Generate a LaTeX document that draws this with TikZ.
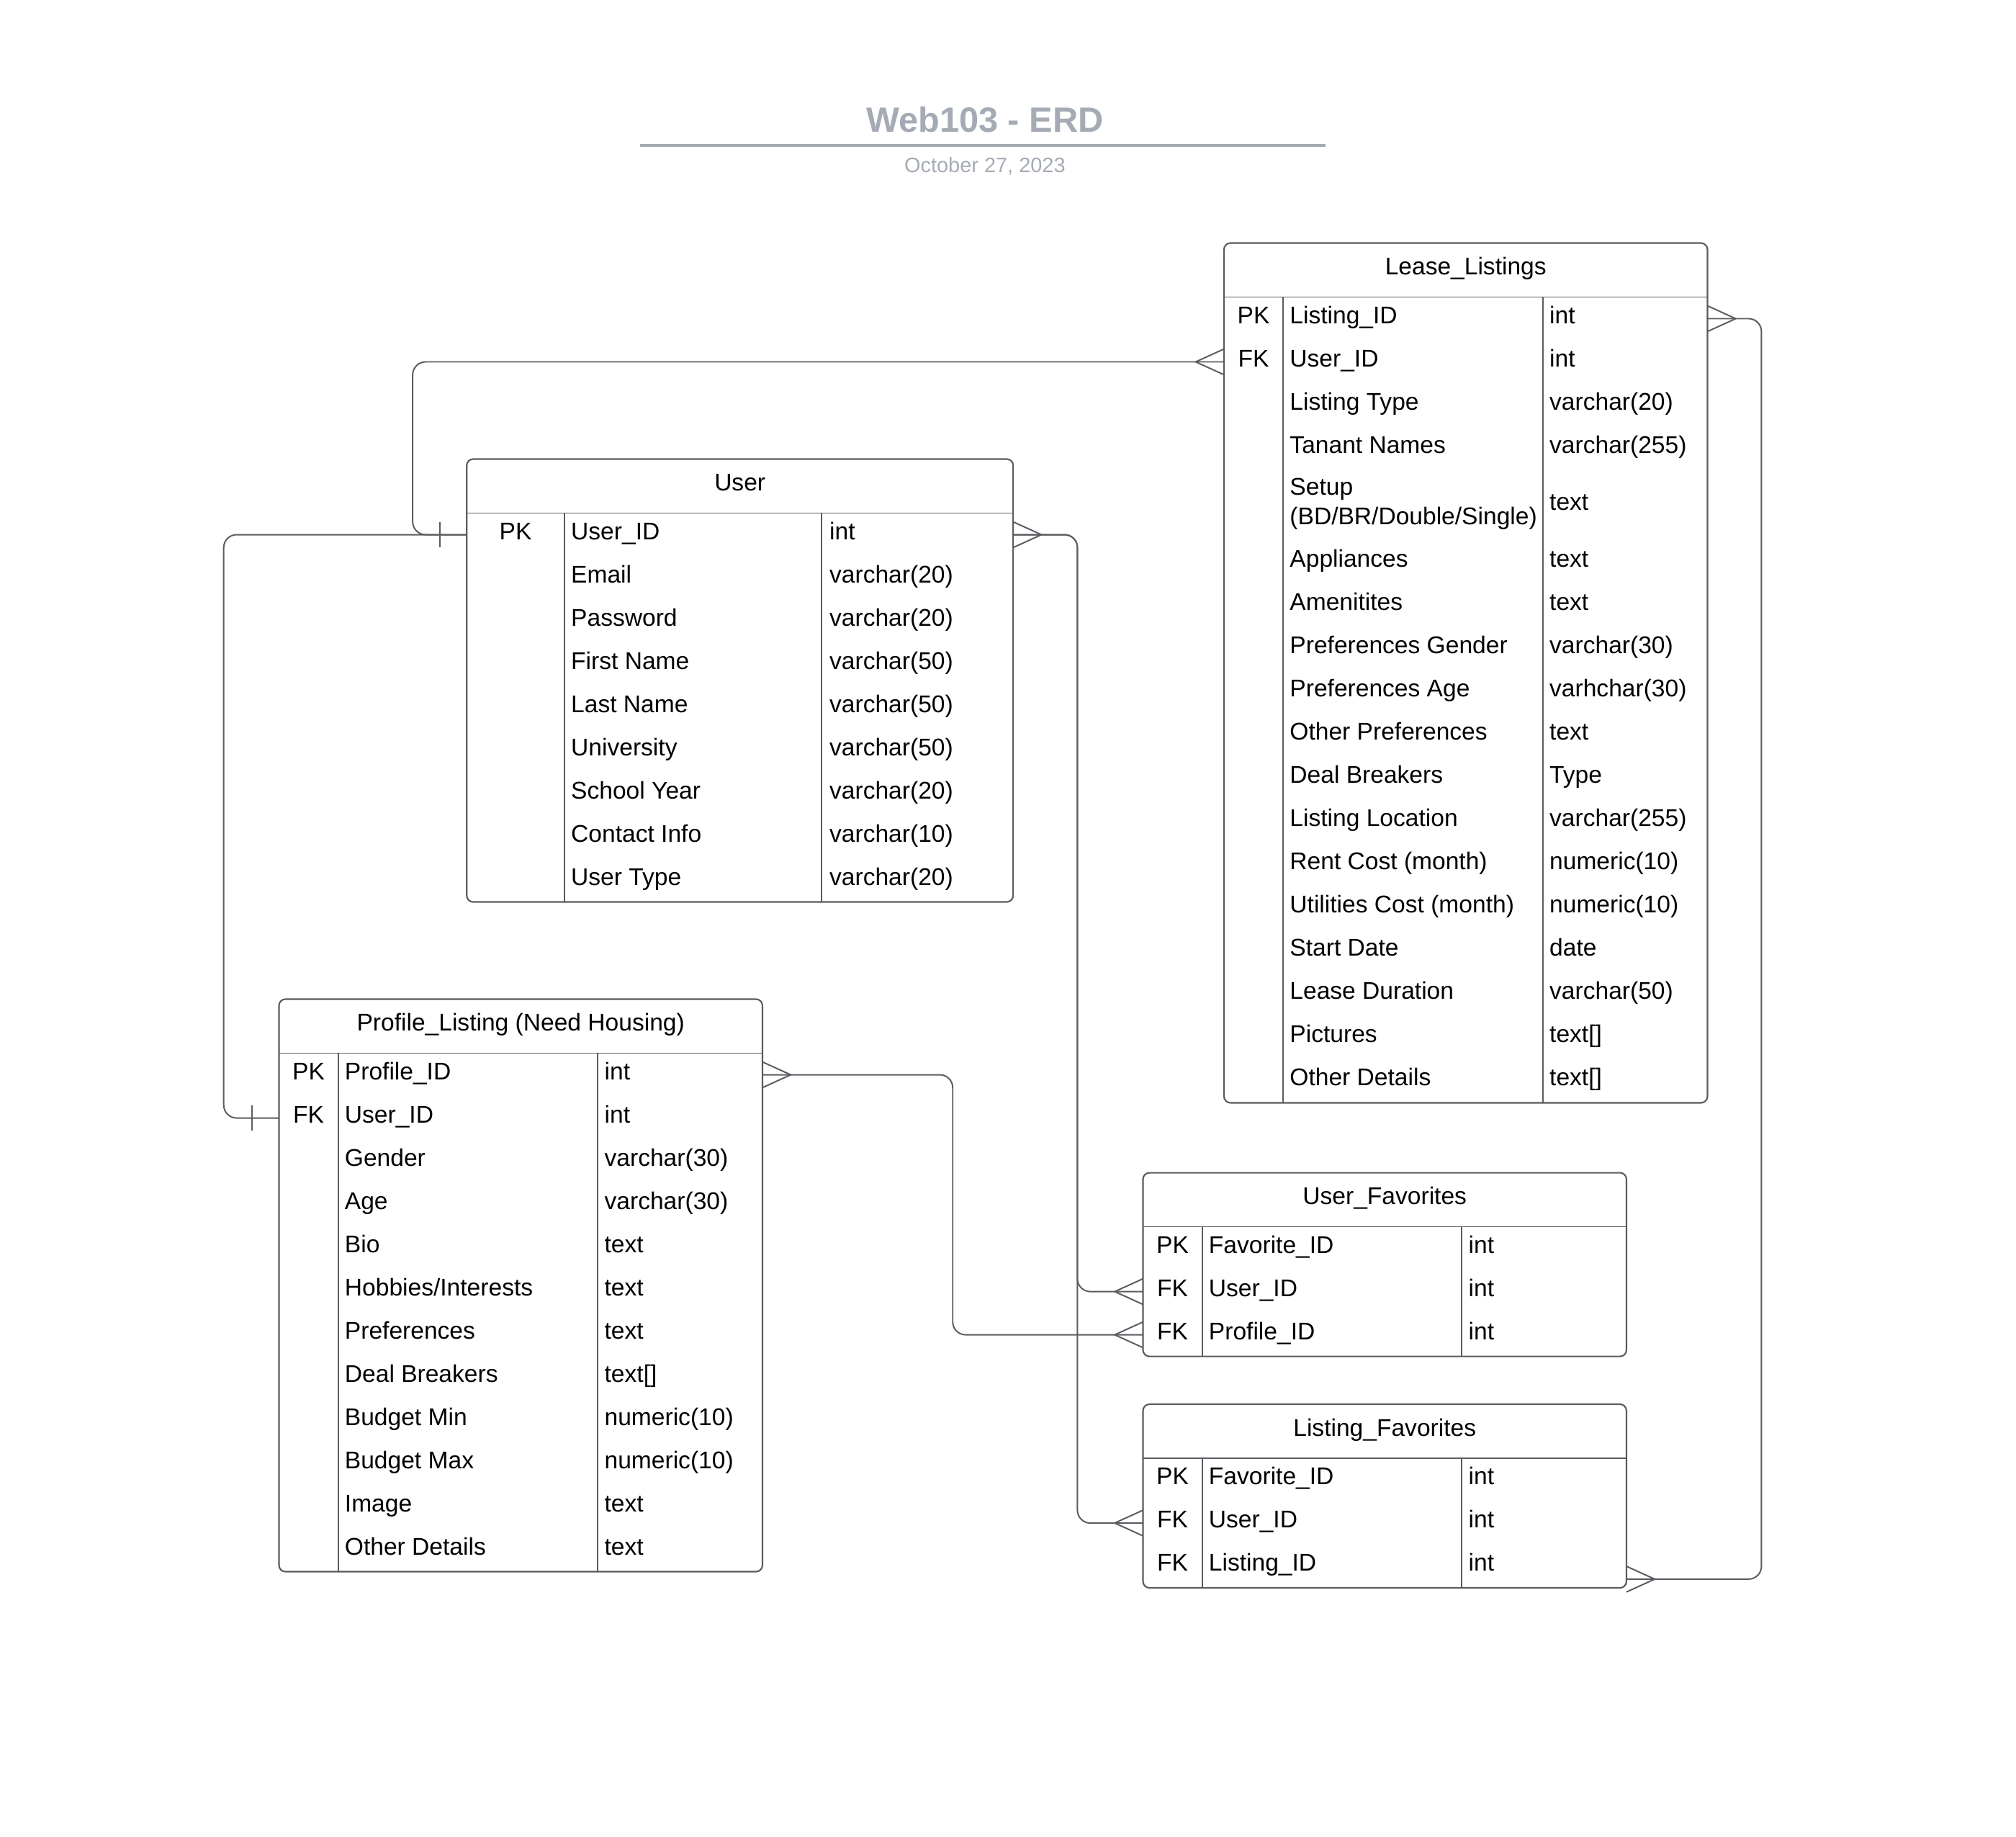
\documentclass[tikz,border=0pt]{standalone}
\usepackage{fontspec}
\setmainfont{Liberation Sans}
\usetikzlibrary{calc}

\definecolor{linegray}{HTML}{595C61}
\definecolor{titlegray}{HTML}{A5ABB5}

\tikzset{
  tablebox/.style={draw=linegray, line width=1.2pt, rounded corners=5pt, inner sep=0pt, outer sep=0pt, anchor=north west},
  rule/.style={draw=linegray, line width=1pt},
  rel/.style={draw=linegray, line width=1.1pt},
  cell/.style={inner sep=0pt, text height=13.5pt, text depth=6.2pt, font=\fontsize{18.8}{23}\selectfont},
  field/.style={cell, anchor=west},
  keyname/.style={cell},
  tablehead/.style={cell},
  crowfoot/.pic={\draw[rel] (0,-10) -- (-22,0) -- (0,10);},
  onebar/.pic={\draw[rel] (-21,-10) -- (-21,10);}
}

\begin{document}
\begin{tikzpicture}[x=1pt, y=-1pt]
  \useasboundingbox (0,0) rectangle (1568,1428);

  % title
  \node[font=\fontsize{27.3}{32}\selectfont\bfseries, text=titlegray] (title) at (766,93) {Web103 - ERD};
  \draw[titlegray, line width=2pt] (498,113) -- (1031,113);
  \node[font=\fontsize{16.2}{19}\selectfont, text=titlegray] (date) at (766,129) {October 27, 2023};

  % User
  \node[tablebox, minimum width=425pt, minimum height=344.4pt] (user) at (363,357) {};
  \draw[rule] (363,399) -- (788,399);
  \draw[rule] (439,399) -- (439,701.4);
  \draw[rule] (639,399) -- (639,701.4);
  \node[tablehead] (user-h) at (575.5,378) {User};
  \foreach \k/\f/\t [count=\i] in {PK/User\_ID/int, {}/Email/varchar(20), {}/Password/varchar(20),
      {}/First Name/varchar(50), {}/Last Name/varchar(50), {}/University/varchar(50),
      {}/School Year/varchar(20), {}/Contact Info/varchar(10), {}/User Type/varchar(20)}
  {
    \pgfmathsetmacro\y{399+33.6*(\i-0.5)}
    \node[keyname] (user-k\i) at (401,\y) {\k};
    \node[field] (user-\i) at (444,\y) {\f};
    \node[field] (user-t\i) at (645,\y) {\t};
  }

  % Lease_Listings
  \node[tablebox, minimum width=376pt, minimum height=668.6pt] (lease) at (952,189) {};
  \draw[rule] (952,231) -- (1328,231);
  \draw[rule] (998,231) -- (998,857.6);
  \draw[rule] (1200,231) -- (1200,857.6);
  \node[tablehead] (lease-h) at (1140,210) {Lease\_Listings};
  \foreach \k/\f/\t [count=\i] in {PK/Listing\_ID/int, FK/User\_ID/int,
      {}/Listing Type/varchar(20), {}/Tanant Names/varchar(255)}
  {
    \pgfmathsetmacro\y{231+33.6*(\i-0.5)}
    \node[keyname] (lease-k\i) at (975,\y) {\k};
    \node[field] (lease-\i) at (1003,\y) {\f};
    \node[field] (lease-t\i) at (1205,\y) {\t};
  }
  \node[anchor=west, inner sep=0pt, align=left, font=\fontsize{18.8}{23}\selectfont] (lease-5) at (1003,392) {Setup\\(BD/BR/Double/Single)};
  \node[field] (lease-t5) at (1205,393.1) {text};
  \foreach \f/\t [count=\i from 6] in {Appliances/text, Amenitites/text, Preferences Gender/varchar(30),
      Preferences Age/varhchar(30), Other Preferences/text, Deal Breakers/Type,
      Listing Location/varchar(255), Rent Cost (month)/numeric(10), Utilities Cost (month)/numeric(10),
      Start Date/date, Lease Duration/varchar(50), Pictures/text[], Other Details/text[]}
  {
    \pgfmathsetmacro\y{231+33.6*(\i-0.5)+21.8}
    \node[field] (lease-\i) at (1003,\y) {\f};
    \node[field] (lease-t\i) at (1205,\y) {\t};
  }

  % Profile_Listing
  \node[tablebox, minimum width=376pt, minimum height=445.2pt] (prof) at (217,777) {};
  \draw[rule] (217,819) -- (593,819);
  \draw[rule] (263,819) -- (263,1222.2);
  \draw[rule] (465,819) -- (465,1222.2);
  \node[tablehead] (prof-h) at (405,798) {Profile\_Listing (Need Housing)};
  \foreach \k/\f/\t [count=\i] in {PK/Profile\_ID/int, FK/User\_ID/int, {}/Gender/varchar(30),
      {}/Age/varchar(30), {}/Bio/text, {}/{Hobbies/Interests}/text, {}/Preferences/text,
      {}/Deal Breakers/text[], {}/Budget Min/numeric(10), {}/Budget Max/numeric(10),
      {}/Image/text, {}/Other Details/text}
  {
    \pgfmathsetmacro\y{819+33.6*(\i-0.5)}
    \node[keyname] (prof-k\i) at (240,\y) {\k};
    \node[field] (prof-\i) at (268,\y) {\f};
    \node[field] (prof-t\i) at (470,\y) {\t};
  }

  % User_Favorites
  \node[tablebox, minimum width=376pt, minimum height=142.8pt] (ufav) at (889,912) {};
  \draw[rule] (889,954) -- (1265,954);
  \draw[rule] (935,954) -- (935,1054.8);
  \draw[rule] (1137,954) -- (1137,1054.8);
  \node[tablehead] (ufav-h) at (1077,933) {User\_Favorites};
  \foreach \k/\f/\t [count=\i] in {PK/Favorite\_ID/int, FK/User\_ID/int, FK/Profile\_ID/int}
  {
    \pgfmathsetmacro\y{954+33.6*(\i-0.5)}
    \node[keyname] (ufav-k\i) at (912,\y) {\k};
    \node[field] (ufav-\i) at (940,\y) {\f};
    \node[field] (ufav-t\i) at (1142,\y) {\t};
  }

  % Listing_Favorites
  \node[tablebox, minimum width=376pt, minimum height=142.8pt] (lfav) at (889,1092) {};
  \draw[rule] (889,1134) -- (1265,1134);
  \draw[rule] (935,1134) -- (935,1234.8);
  \draw[rule] (1137,1134) -- (1137,1234.8);
  \node[tablehead] (lfav-h) at (1077,1113) {Listing\_Favorites};
  \foreach \k/\f/\t [count=\i] in {PK/Favorite\_ID/int, FK/User\_ID/int, FK/Listing\_ID/int}
  {
    \pgfmathsetmacro\y{1134+33.6*(\i-0.5)}
    \node[keyname] (lfav-k\i) at (912,\y) {\k};
    \node[field] (lfav-\i) at (940,\y) {\f};
    \node[field] (lfav-t\i) at (1142,\y) {\t};
  }

  % relations
  \begin{scope}[rel, rounded corners=10pt]
    \draw (user.west |- user-1) -- ++(-42,0) |- (lease.west |- lease-2);
    \draw (user.west |- user-1) -- ++(-189,0) |- (prof.west |- prof-2);
    \draw (user.east |- user-1) -- ++(50,0) |- (ufav.west |- ufav-2);
    \draw (user.east |- user-1) -- ++(50,0) |- (lfav.west |- lfav-2);
    \draw (prof.east |- prof-1) -- ++(148,0) |- (ufav.west |- ufav-3);
    \draw (lease.east |- lease-1) -- ++(42,0) |- ($(lfav.east |- lfav-3)+(0,10)$);
  \end{scope}

  % ends
  \pic at (user.west |- user-1) {onebar};
  \pic at (prof.west |- prof-2) {onebar};
  \pic at (lease.west |- lease-2) {crowfoot};
  \pic[rotate=180] at (user.east |- user-1) {crowfoot};
  \pic at (ufav.west |- ufav-2) {crowfoot};
  \pic at (ufav.west |- ufav-3) {crowfoot};
  \pic at (lfav.west |- lfav-2) {crowfoot};
  \pic[rotate=180] at (prof.east |- prof-1) {crowfoot};
  \pic[rotate=180] at (lease.east |- lease-1) {crowfoot};
  \pic[rotate=180] at ($(lfav.east |- lfav-3)+(0,10)$) {crowfoot};
\end{tikzpicture}
\end{document}
